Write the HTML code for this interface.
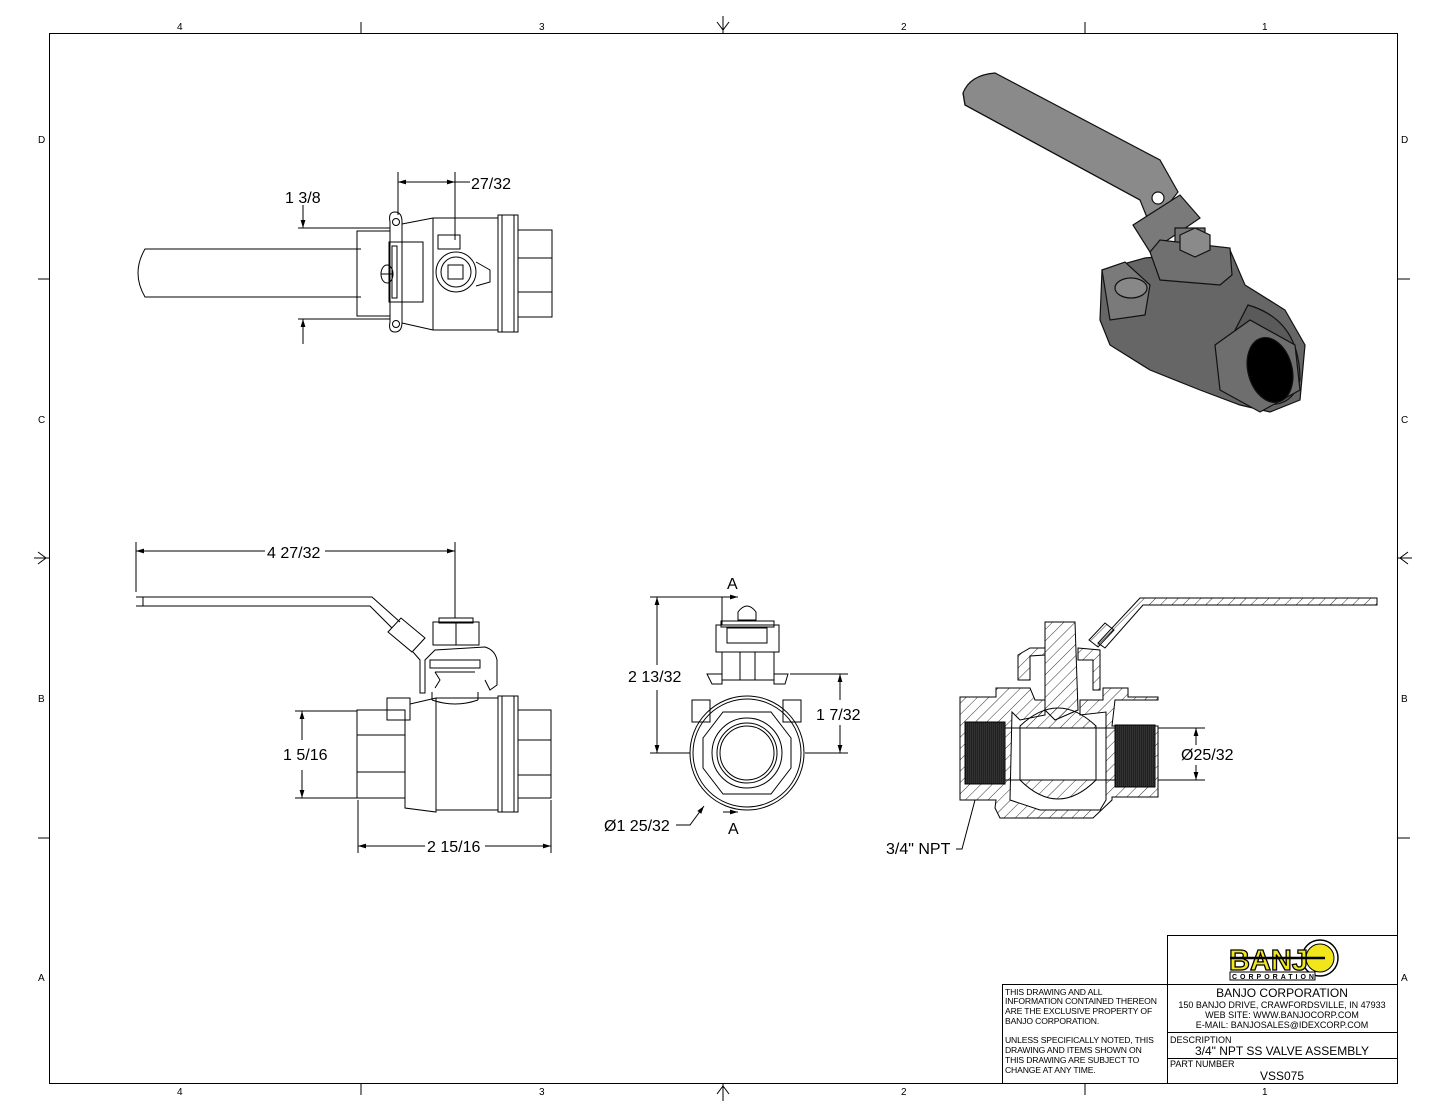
<!DOCTYPE html>
<html><head><meta charset="utf-8"><style>
html,body{margin:0;padding:0;background:#fff}
svg{display:block}
text{font-family:"Liberation Sans",Arial,sans-serif;fill:#000}
</style></head><body>
<svg width="1445" height="1117" viewBox="0 0 1445 1117" xmlns="http://www.w3.org/2000/svg">
<defs>
<marker id="ar" viewBox="0 0 10 10" refX="10" refY="5" markerWidth="8" markerHeight="8" orient="auto-start-reverse"><path d="M0,2 L10,5 L0,8 z" fill="#000"/></marker>
<pattern id="hatch" width="8" height="8" patternUnits="userSpaceOnUse" patternTransform="rotate(45)"><line x1="0" y1="0" x2="0" y2="8" stroke="#000" stroke-width="0.8"/></pattern>
<pattern id="thr" width="2" height="4" patternUnits="userSpaceOnUse"><rect width="2" height="4" fill="#222"/><line x1="0" y1="0" x2="0" y2="4" stroke="#555" stroke-width="0.6"/></pattern>
</defs>
<g fill="none" stroke="#000" stroke-width="1">
<rect x="49.5" y="33.5" width="1348" height="1050"/>
<line x1="361" y1="22" x2="361" y2="33"/><line x1="1085" y1="22" x2="1085" y2="33"/>
<line x1="361" y1="1083" x2="361" y2="1095"/><line x1="1085" y1="1083" x2="1085" y2="1095"/>
<line x1="38" y1="279" x2="49" y2="279"/><line x1="38" y1="838" x2="49" y2="838"/>
<line x1="1397" y1="279" x2="1410" y2="279"/><line x1="1397" y1="838" x2="1410" y2="838"/>
<line x1="723" y1="16" x2="723" y2="33"/><path d="M717,22 L723,30 L729,22"/>
<line x1="723" y1="1083" x2="723" y2="1101"/><path d="M717,1094 L723,1086 L729,1094"/>
<line x1="34" y1="558" x2="49" y2="558"/><path d="M38,552 L46,558 L38,564"/>
<line x1="1397" y1="558" x2="1412" y2="558"/><path d="M1408,552 L1400,558 L1408,564"/>
</g>
<g font-size="10">
<text x="177" y="30">4</text><text x="539" y="30">3</text><text x="901" y="30">2</text><text x="1262" y="30">1</text>
<text x="177" y="1095">4</text><text x="539" y="1095">3</text><text x="901" y="1095">2</text><text x="1262" y="1095">1</text>
<text x="38" y="143">D</text><text x="38" y="423">C</text><text x="38" y="702">B</text><text x="38" y="981">A</text>
<text x="1401" y="143">D</text><text x="1401" y="423">C</text><text x="1401" y="702">B</text><text x="1401" y="981">A</text>
</g>

<!-- TOP VIEW -->
<g fill="none" stroke="#000" stroke-width="1">
<path d="M361,249 L145,249 Q131,273 145,297 L361,297"/>
<rect x="357" y="231" width="33" height="85"/>
<path d="M390,222 Q388,212 395,212 Q402,212 402,222 L402,322 Q402,332 395,332 Q388,332 390,322 Z"/>
<circle cx="396" cy="222" r="3.5"/><circle cx="396" cy="324" r="3.5"/>
<rect x="389" y="242" width="34" height="60"/><rect x="392" y="246" width="5" height="52"/>
<ellipse cx="387" cy="274" rx="6" ry="9"/><line x1="381" y1="274" x2="393" y2="274"/>
<path d="M402,224 L433,218 L498,218 L498,330 L433,330 L402,323"/>
<line x1="433" y1="218" x2="433" y2="330"/>
<rect x="438" y="235" width="22" height="14"/>
<circle cx="456" cy="272" r="20"/><circle cx="456" cy="272" r="15"/><rect x="448" y="265" width="15" height="14"/>
<path d="M476,262 L490,270 L490,282 L476,286"/>
<rect x="498" y="215" width="20" height="117"/><line x1="502" y1="215" x2="502" y2="332"/><line x1="514" y1="215" x2="514" y2="332"/>
<rect x="518" y="230" width="34" height="87"/><line x1="518" y1="258" x2="552" y2="258"/><line x1="518" y1="292" x2="552" y2="292"/>
<line x1="398" y1="172" x2="398" y2="215"/><line x1="455" y1="172" x2="455" y2="240"/>
<line x1="398" y1="182" x2="455" y2="182" marker-start="url(#ar)" marker-end="url(#ar)"/>
<line x1="455" y1="182" x2="470" y2="182"/>
<line x1="298" y1="228" x2="390" y2="228"/><line x1="298" y1="319" x2="390" y2="319"/>
<line x1="303" y1="205" x2="303" y2="228" marker-end="url(#ar)"/>
<line x1="303" y1="344" x2="303" y2="319" marker-end="url(#ar)"/>
</g>
<text x="471" y="189" font-size="16">27/32</text>
<text x="285" y="203" font-size="16">1 3/8</text>

<!-- 3D VIEW -->
<g stroke="#111" stroke-width="1.2">
<path d="M963,93 Q970,75 995,73 L1160,160 L1178,192 L1160,215 L1150,225 L1140,200 L965,105 Z" fill="#8a8a8a"/>
<path d="M963,93 L965,105 L1140,200" fill="none"/>
<circle cx="1158" cy="198" r="6" fill="#fff"/>
<path d="M1133,225 L1180,195 L1200,218 L1150,252 Z" fill="#7a7a7a"/>
<path d="M1102,270 L1145,258 L1230,250 L1245,285 L1285,310 L1305,345 L1300,400 L1270,412 L1240,405 L1200,390 L1150,370 L1110,345 L1100,320 Z" fill="#666"/>
<path d="M1102,270 L1125,262 L1150,285 L1145,315 L1110,320 Z" fill="#7a7a7a"/>
<ellipse cx="1131" cy="288" rx="16" ry="10" fill="#888"/>
<rect x="1175" y="228" width="30" height="25" fill="#777"/>
<path d="M1150,252 L1160,240 L1230,248 L1232,275 L1220,285 L1160,280 Z" fill="#707070"/>
<path d="M1180,235 L1195,228 L1210,235 L1210,250 L1195,257 L1180,250 Z" fill="#8a8a8a"/>
<path d="M1248,305 Q1300,320 1300,380 Q1290,415 1250,400 Q1225,380 1230,340 Z" fill="#5a5a5a"/>
<path d="M1215,345 L1250,320 L1295,345 L1300,390 L1260,412 L1220,390 Z" fill="#6e6e6e"/>
<ellipse cx="1270" cy="370" rx="22" ry="33" fill="#000" transform="rotate(-15 1270 370)"/>
</g>

<!-- FRONT VIEW -->
<g fill="none" stroke="#000" stroke-width="1">
<path d="M136,597 L372,597 L400,622"/><path d="M136,606 L370,606 L392,628"/>
<line x1="143" y1="597" x2="143" y2="606"/>
<path d="M388,632 L401,618 L425,638 L412,652 Z"/>
<path d="M413,652 L420,660 L420,693 L425,693 L425,660 L435,650 L485,647 Q495,650 497,660 L497,685 L490,690 L485,680"/>
<rect x="433" y="622" width="46" height="23"/><line x1="456" y1="622" x2="456" y2="645"/><rect x="439" y="618" width="34" height="5"/>
<rect x="430" y="660" width="50" height="8"/><line x1="435" y1="672" x2="475" y2="672"/>
<path d="M435,672 L440,680 L435,688 M432,692 L432,700 M478,692 L478,700"/>
<path d="M432,700 Q455,708 478,700"/>
<rect x="357" y="710" width="48" height="88"/><line x1="357" y1="735" x2="405" y2="735"/><line x1="357" y1="772" x2="405" y2="772"/>
<rect x="387" y="698" width="23" height="22"/>
<path d="M405,716 L405,808 L436,812 L436,698 L410,704"/>
<path d="M436,698 L498,698 L498,810 L436,810"/>
<rect x="498" y="696" width="20" height="116"/><line x1="502" y1="696" x2="502" y2="812"/><line x1="514" y1="696" x2="514" y2="812"/>
<rect x="518" y="710" width="33" height="88"/><line x1="518" y1="740" x2="551" y2="740"/><line x1="518" y1="775" x2="551" y2="775"/>
<line x1="136" y1="542" x2="136" y2="592"/><line x1="455" y1="542" x2="455" y2="618"/>
<line x1="136" y1="551" x2="265" y2="551" marker-start="url(#ar)"/><line x1="325" y1="551" x2="455" y2="551" marker-end="url(#ar)"/>
<line x1="295" y1="711" x2="357" y2="711"/><line x1="295" y1="798" x2="357" y2="798"/>
<line x1="302" y1="711" x2="302" y2="740" marker-start="url(#ar)"/><line x1="302" y1="770" x2="302" y2="798" marker-end="url(#ar)"/>
<line x1="358" y1="800" x2="358" y2="853"/><line x1="551" y1="800" x2="551" y2="853"/>
<line x1="358" y1="846" x2="425" y2="846" marker-start="url(#ar)"/><line x1="485" y1="846" x2="551" y2="846" marker-end="url(#ar)"/>
</g>
<text x="267" y="558" font-size="16">4 27/32</text>
<text x="283" y="760" font-size="16">1 5/16</text>
<text x="427" y="852" font-size="16">2 15/16</text>

<!-- END VIEW -->
<g fill="none" stroke="#000" stroke-width="1">
<path d="M716,625 L716,652 L779,652 L779,625 Z"/><rect x="721" y="621" width="53" height="6"/>
<rect x="727" y="628" width="40" height="15"/><path d="M738,612 Q747,600 756,612 L756,620 L738,620 Z"/>
<rect x="722" y="652" width="52" height="28"/><line x1="740" y1="652" x2="740" y2="680"/><line x1="755" y1="652" x2="755" y2="680"/>
<path d="M707,674 L722,674 L722,684 L712,684 Z M774,674 L788,674 L785,684 L774,684 Z"/>
<rect x="692" y="700" width="18" height="22"/><rect x="783" y="700" width="18" height="22"/>
<circle cx="747" cy="753" r="57"/><circle cx="747" cy="753" r="54"/>
<polygon points="723,712 771,712 791,738 791,768 771,794 723,794 703,768 703,738"/>
<circle cx="747" cy="753" r="35"/><circle cx="747" cy="753" r="30"/><circle cx="747" cy="753" r="27"/>
<line x1="650" y1="597" x2="735" y2="597"/><line x1="650" y1="753" x2="690" y2="753"/>
<line x1="657" y1="597" x2="657" y2="665" marker-start="url(#ar)"/><line x1="657" y1="690" x2="657" y2="753" marker-end="url(#ar)"/>
<line x1="790" y1="674" x2="848" y2="674"/><line x1="805" y1="753" x2="848" y2="753"/>
<line x1="840" y1="674" x2="840" y2="700" marker-start="url(#ar)"/><line x1="840" y1="725" x2="840" y2="753" marker-end="url(#ar)"/>
<line x1="722" y1="597" x2="722" y2="625"/><line x1="722" y1="597" x2="738" y2="597" marker-end="url(#ar)"/>
<line x1="723" y1="812" x2="738" y2="812" marker-end="url(#ar)"/>
<path d="M676,825 L690,825 L704,806" marker-end="url(#ar)"/>
</g>
<text x="727" y="589" font-size="16">A</text>
<text x="728" y="834" font-size="16">A</text>
<text x="628" y="682" font-size="16">2 13/32</text>
<text x="816" y="720" font-size="16">1 7/32</text>
<text x="604" y="831" font-size="16">Ø1 25/32</text>

<!-- SECTION VIEW -->
<g stroke="#000" stroke-width="1">
<path d="M1140,598 L1377,598 L1377,605 L1143,605 L1105,648 L1098,643 Z" fill="url(#hatch)"/>
<path d="M1089,640 L1105,623 L1114,630 L1098,647 Z" fill="url(#hatch)"/>
<path d="M1045,622 L1075,622 L1078,710 L1055,720 L1045,710 Z" fill="url(#hatch)"/>
<path d="M1018,680 L1018,655 L1030,648 L1045,648 L1045,655 L1030,656 L1030,680 Z M1078,648 L1100,650 L1100,690 L1093,690 L1093,660 L1078,660 Z" fill="url(#hatch)"/>
<path d="M960,697 L996,697 L996,688 L1030,688 L1035,700 L1045,700 L1045,715 L1020,720 L1012,712 L1010,800 L1040,810 L1100,810 L1106,800 L1106,712 L1080,715 L1080,700 L1103,700 L1103,688 L1128,688 L1128,697 L1158,697 L1158,700 L1115,700 L1112,726 L1158,726 L1158,797 L1112,797 L1112,800 L1093,818 L1000,818 L995,808 L996,800 L960,800 Z" fill="url(#hatch)"/>
<path d="M1020,726 Q1058,690 1096,726 L1096,780 Q1058,818 1020,780 Z" fill="url(#hatch)"/>
<rect x="1020" y="728" width="76" height="52" fill="#fff"/>
<rect x="965" y="722" width="40" height="62" fill="url(#thr)"/>
<rect x="1115" y="725" width="40" height="62" fill="url(#thr)"/>
<g fill="none">
<line x1="1005" y1="728" x2="1020" y2="728"/><line x1="1005" y1="780" x2="1020" y2="780"/>
<line x1="1096" y1="728" x2="1115" y2="728"/><line x1="1096" y1="780" x2="1115" y2="780"/>
<line x1="1158" y1="728" x2="1205" y2="728"/><line x1="1158" y1="780" x2="1205" y2="780"/>
<line x1="1196" y1="728" x2="1196" y2="745" marker-start="url(#ar)"/><line x1="1196" y1="765" x2="1196" y2="780" marker-end="url(#ar)"/>
<path d="M956,849 L962,849 L975,800"/>
</g>
</g>
<text x="1181" y="760" font-size="16">Ø25/32</text>
<text x="886" y="854" font-size="16">3/4" NPT</text>

<!-- TITLE BLOCK -->
<g fill="none" stroke="#000" stroke-width="1">
<rect x="1167.5" y="935.5" width="230" height="148"/>
<rect x="1002.5" y="984.5" width="165" height="99"/>
<line x1="1167" y1="984.5" x2="1397" y2="984.5"/>
<line x1="1167" y1="1032.5" x2="1397" y2="1032.5"/>
<line x1="1167" y1="1058.5" x2="1397" y2="1058.5"/>
</g>
<g>
<circle cx="1320" cy="958" r="18" fill="#fff" stroke="#000" stroke-width="1.5"/>
<circle cx="1320" cy="958" r="14" fill="#f1e61c" stroke="#000" stroke-width="1"/>
<text x="1229" y="970" font-size="29" font-weight="bold" style="fill:#f1e61c;stroke:#000;stroke-width:1.3">BANJ</text>
<line x1="1230" y1="958" x2="1325" y2="958" stroke="#000" stroke-width="2.5"/>
<rect x="1230" y="972" width="85" height="8" fill="#fff" stroke="#000"/>
<text x="1232" y="979" font-size="7" font-weight="bold" letter-spacing="3">CORPORATION</text>
</g>
<g font-size="8.6" letter-spacing="-0.15">
<text x="1005" y="995">THIS DRAWING AND ALL</text>
<text x="1005" y="1004">INFORMATION CONTAINED THEREON</text>
<text x="1005" y="1014">ARE THE EXCLUSIVE PROPERTY OF</text>
<text x="1005" y="1024">BANJO CORPORATION.</text>
<text x="1005" y="1043">UNLESS SPECIFICALLY NOTED, THIS</text>
<text x="1005" y="1053">DRAWING AND ITEMS SHOWN ON</text>
<text x="1005" y="1063">THIS DRAWING ARE SUBJECT TO</text>
<text x="1005" y="1073">CHANGE AT ANY TIME.</text>
</g>
<text x="1282" y="997" font-size="12" text-anchor="middle">BANJO CORPORATION</text>
<g font-size="9" text-anchor="middle">
<text x="1282" y="1008">150 BANJO DRIVE, CRAWFORDSVILLE, IN 47933</text>
<text x="1282" y="1018">WEB SITE: WWW.BANJOCORP.COM</text>
<text x="1282" y="1028">E-MAIL: BANJOSALES@IDEXCORP.COM</text>
</g>
<text x="1170" y="1043" font-size="9">DESCRIPTION</text>
<text x="1282" y="1055" font-size="12" text-anchor="middle">3/4" NPT SS VALVE ASSEMBLY</text>
<text x="1170" y="1067" font-size="9">PART NUMBER</text>
<text x="1282" y="1080" font-size="12" text-anchor="middle">VSS075</text>
</svg>
</body></html>
